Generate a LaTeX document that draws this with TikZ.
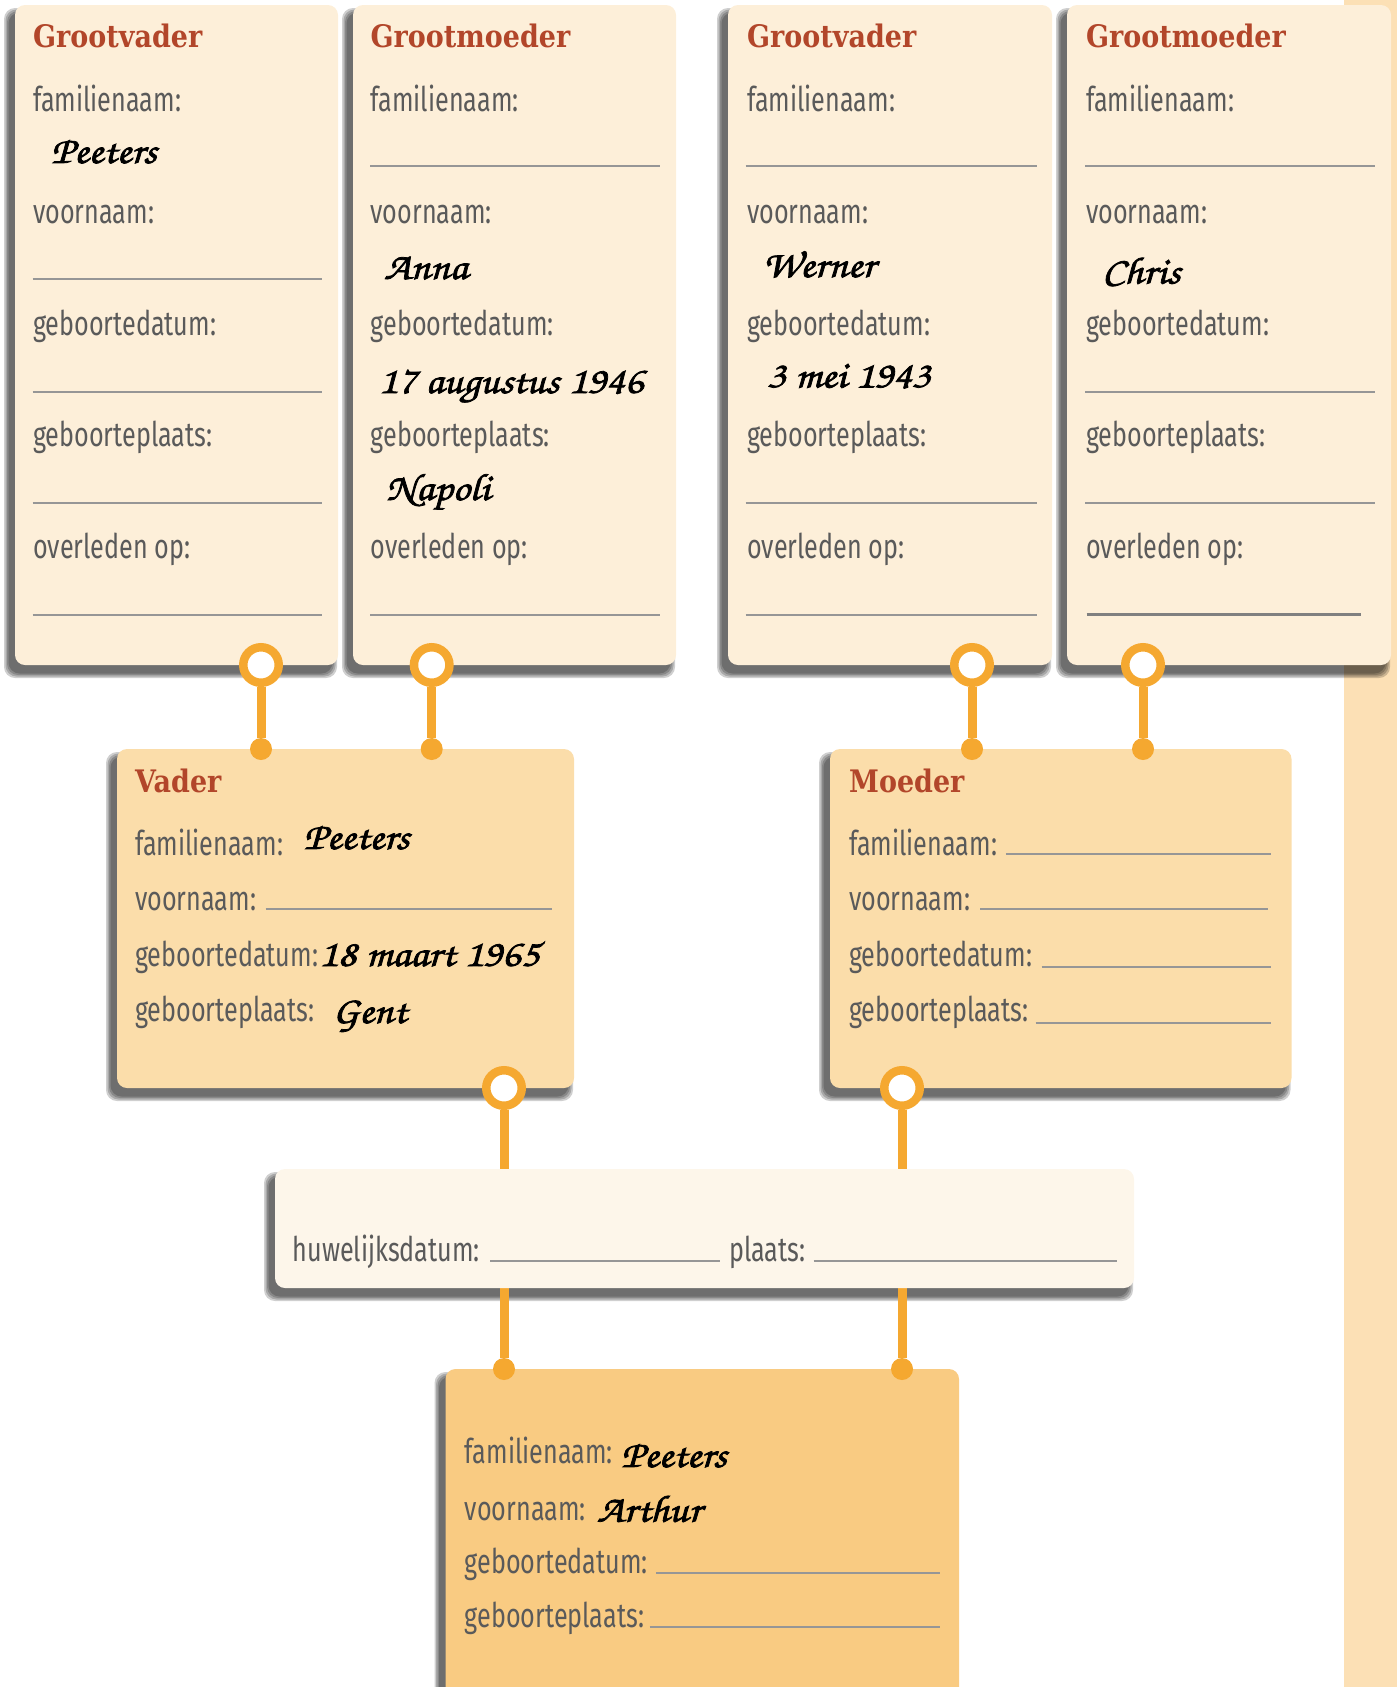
\documentclass[tikz,border=0pt]{standalone}
\usepackage{fontspec}
\newfontfamily\labfont[FakeStretch=0.74]{Fira Sans}
\newfontfamily\titfont[FakeStretch=0.87]{DejaVu Serif}
\newfontfamily\handfont[FakeBold=2,FakeStretch=1.12]{texgyrechorus-mediumitalic.otf}
\definecolor{topfill}{RGB}{253,239,217}
\definecolor{midfill}{RGB}{251,221,170}
\definecolor{huwfill}{RGB}{253,246,234}
\definecolor{kindfill}{RGB}{249,203,130}
\definecolor{stripc}{RGB}{252,224,181}
\definecolor{orangec}{RGB}{245,168,48}
\definecolor{labgray}{RGB}{90,90,90}
\definecolor{titred}{RGB}{178,70,42}
\definecolor{linegray}{RGB}{150,150,150}
\pgfdeclarelayer{shad}
\pgfdeclarelayer{bg}
\pgfsetlayers{shad,bg,main}
\newcommand\topcard[3]{%
 \node[tit] (#1t) at (#2,47) {#3};
 \node[lab] (#1a) at (#2,111.6) {familienaam:};
 \node[lab] (#1b) at (#2,223) {voornaam:};
 \node[lab] (#1c) at (#2,335) {geboortedatum:};
 \node[lab] (#1d) at (#2,446) {geboorteplaats:};
 \node[lab] (#1e) at (#2,558) {overleden op:};
}
\newcommand\dropshadow[1]{%
 \foreach \e in {5,3.5,2,0.5}{%
  \fill[black, opacity=0.19, rounded corners=11pt]
   ([shift={(-6-\e,8-\e)}]#1.north west) rectangle ([shift={(-6+\e,8+\e)}]#1.south east);
 }}
\tikzset{
 box/.style={rectangle, rounded corners=10pt, inner sep=0pt, outer sep=0pt},
 lab/.style={anchor=base west, inner sep=0pt, text=labgray, font=\labfont\fontsize{34}{40}\selectfont},
 tit/.style={anchor=base west, inner sep=0pt, text=titred, font=\titfont\bfseries\fontsize{31}{36}\selectfont},
 hand/.style={anchor=base west, inner sep=0pt, text=black, font=\handfont\fontsize{38}{42}\selectfont},
 ring/.style={circle, draw=orangec, fill=white, line width=8.5pt, minimum size=35.5pt, inner sep=0pt},
 dot/.style={circle, fill=orangec, minimum size=22pt, inner sep=0pt},
 stem/.style={draw=orangec, line width=9pt},
 blank/.style={draw=linegray, line width=2pt},
}
\begin{document}
\begin{tikzpicture}[x=1pt,y=-1pt]
\useasboundingbox (0,0) rectangle (1397,1687);

% boxes
\node[box, fill=topfill, minimum width=323pt, minimum height=660pt] (gv1) at (176.5,335) {};
\node[box, fill=topfill, minimum width=323pt, minimum height=660pt] (gm1) at (514.5,335) {};
\node[box, fill=topfill, minimum width=324pt, minimum height=660pt] (gv2) at (890,335) {};
\node[box, fill=topfill, minimum width=324pt, minimum height=660pt] (gm2) at (1229,335) {};
\node[box, fill=midfill, minimum width=457pt, minimum height=339pt] (vader) at (345.5,918.5) {};
\node[box, fill=midfill, minimum width=461.5pt, minimum height=339pt] (moeder) at (1060.75,918.5) {};
\node[box, fill=huwfill, minimum width=859pt, minimum height=119pt] (huw) at (704.5,1228.5) {};
\node[box, fill=kindfill, minimum width=513.5pt, minimum height=360pt] (kind) at (702.25,1549) {};

\begin{pgfonlayer}{shad}
\fill[stripc] (1344,0) rectangle (1397,1687);
\dropshadow{gv1}
\dropshadow{gm1}
\dropshadow{gv2}
\dropshadow{gm2}
\dropshadow{vader}
\dropshadow{moeder}
\dropshadow{huw}
\dropshadow{kind}
\end{pgfonlayer}

% top cards
\topcard{A}{33}{Grootvader}
\topcard{B}{370.5}{Grootmoeder}
\topcard{C}{747}{Grootvader}
\topcard{D}{1086}{Grootmoeder}

\draw[blank] (32.6,279) -- (322,279);
\draw[blank] (32.6,391.5) -- (322,391.5);
\draw[blank] (32.6,503) -- (322,503);
\draw[blank] (32.6,615) -- (322,615);
\draw[blank] (370,166) -- (659.8,166);
\draw[blank] (370,615) -- (659.8,615);
\draw[blank] (745.5,166) -- (1037,166);
\draw[blank] (745.5,503) -- (1037,503);
\draw[blank] (745.5,615) -- (1037,615);
\draw[blank] (1085,166) -- (1375,166);
\draw[blank] (1085,391.5) -- (1375,391.5);
\draw[blank] (1085,503) -- (1375,503);
\draw[blank, line width=3pt, draw=gray] (1086.6,614) -- (1360.7,614);

\node[hand] (hA1) at (51,163) {Peeters};
\node[hand] (hB1) at (384,279) {Anna};
\node[hand] (hB2) at (378.6,393) {17 augustus 1946};
\node[hand] (hB3) at (386,500) {Napoli};
\node[hand] (hC1) at (762.5,277) {Werner};
\node[hand] (hC2) at (767,387.5) {3 mei 1943};
\node[hand] (hD1) at (1102,283.5) {Chris};

% Vader
\node[tit] (vt) at (135,792) {Vader};
\node[lab] (va) at (135,855) {familienaam:};
\node[lab] (vb) at (135,910.5) {voornaam:};
\node[lab] (vc) at (135,966) {geboortedatum:};
\node[lab] (vd) at (135,1021.5) {geboorteplaats:};
\node[hand] (hv1) at (303.6,849) {Peeters};
\draw[blank] (265.6,909) -- (552,909);
\node[hand] (hv2) at (319,966) {18 maart 1965};
\node[hand] (hv3) at (332.6,1023) {Gent};

% Moeder
\node[tit] (mt) at (849,792) {Moeder};
\node[lab] (ma) at (849,855) {familienaam:};
\node[lab] (mb) at (849,910.5) {voornaam:};
\node[lab] (mc) at (849,966) {geboortedatum:};
\node[lab] (md) at (849,1021.5) {geboorteplaats:};
\draw[blank] (1005.8,853.8) -- (1270.5,853.8);
\draw[blank] (980,909) -- (1268,909);
\draw[blank] (1041.5,967) -- (1270.5,967);
\draw[blank] (1035.7,1023.4) -- (1270.5,1023.4);

% huwelijk
\node[lab] (ha) at (292.5,1261) {huwelijksdatum:};
\draw[blank] (490,1261) -- (720,1261);
\node[lab] (hb) at (729,1261) {plaats:};
\draw[blank] (813.5,1261) -- (1117,1261);

% kind
\node[lab] (ka) at (464.7,1463) {familienaam:};
\node[lab] (kb) at (464.7,1520) {voornaam:};
\node[lab] (kc) at (464.7,1573) {geboortedatum:};
\node[lab] (kd) at (464.7,1627.7) {geboorteplaats:};
\node[hand] (hk1) at (621,1467) {Peeters};
\node[hand] (hk2) at (597,1521.6) {Arthur};
\draw[blank] (656,1573) -- (940,1573);
\draw[blank] (649.6,1626.7) -- (940,1626.7);

% rings and dots
\node[ring] (r1) at (261,665) {};
\node[ring] (r2) at (431.7,665) {};
\node[ring] (r3) at (972,665) {};
\node[ring] (r4) at (1143,665) {};
\node[dot] (d1) at (261,749) {};
\node[dot] (d2) at (431.7,749) {};
\node[dot] (d3) at (972,749) {};
\node[dot] (d4) at (1143,749) {};
\node[ring] (rv) at (504,1088) {};
\node[ring] (rm) at (902,1088) {};
\node[dot] (c1) at (504,1369) {};
\node[dot] (c2) at (902,1369) {};

\begin{pgfonlayer}{bg}
\draw[stem] (r1) -- (d1);
\draw[stem] (r2) -- (d2);
\draw[stem] (r3) -- (d3);
\draw[stem] (r4) -- (d4);
\draw[stem] (rv) -- (c1);
\draw[stem] (rm) -- (c2);
\end{pgfonlayer}
\end{tikzpicture}
\end{document}
